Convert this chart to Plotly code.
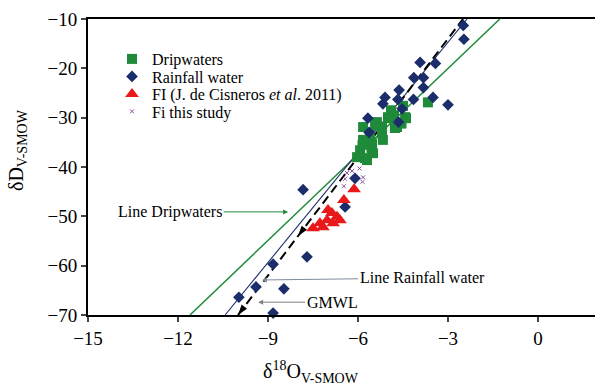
import math
import plotly.graph_objects as go

# ---------------- data ----------------
drip_x = [-3.67, -4.5, -4.4, -4.8, -5.0, -4.7, -5.83, -5.43, -5.2, -5.83, -5.53, -5.17, -5.93,
          -5.5, -5.7, -6.03, -5.37, -5.0, -4.43, -4.77, -5.2, -5.77, -5.85, -5.55, -4.9, -5.6, -4.55]
drip_y = [-26.9, -27.6, -30.1, -29.5, -30.1, -31.9, -31.9, -31.5, -33.2, -34.5, -35.2, -34.5, -36.6,
          -37.2, -38.6, -38.0, -30.9, -29.9, -29.9, -32.1, -31.9, -38.2, -35.5, -36.2, -28.5, -33.5, -31.2]

rain_x = [-2.49, -2.47, -3.93, -3.42, -4.14, -3.82, -3.82, -4.63, -5.1, -4.15, -3.5, -3.0, -4.67,
          -5.17, -4.53, -5.67, -5.63, -4.65, -6.1, -7.83, -7.7, -8.83, -9.4, -8.47, -9.97, -8.83, -6.43]
rain_y = [-11.3, -14.1, -18.8, -19.0, -21.9, -21.9, -23.9, -24.4, -25.9, -26.3, -25.9, -27.4, -26.3,
          -27.2, -28.2, -30.1, -33.0, -30.9, -42.3, -44.6, -58.2, -59.7, -64.3, -64.7, -66.4, -69.6, -48.1]

fi_x = [-6.13, -6.47, -6.87, -6.7, -7.03, -7.27, -7.5, -6.6, -7.17, -6.83, -7.0]
fi_y = [-44.5, -46.7, -49.3, -50.1, -50.8, -51.4, -52.4, -50.8, -52.2, -51.4, -48.7]

fis_x = [-6.37, -5.95, -5.83, -5.85, -6.43, -6.47, -6.2]
fis_y = [-41.2, -40.3, -42.1, -43.0, -42.4, -43.9, -40.8]

# regression lines: slope, intercept (dD = m * d18O + b)
line_names = ["Line Dripwaters", "Line Rainfall water", "GMWL"]
line_slope = [5.81, 7.44, 8.0]
line_intercept = [-2.6, 7.6, 10.0]
gmwl_arrow_y = [-70, -54]   # where arrowheads sit on the GMWL

x_ticks = [-15, -12, -9, -6, -3, 0]
y_ticks = [-70, -60, -50, -40, -30, -20, -10]
x_range = [-15, 1.9]
y_range = [-70, -10]

# ---------------- styles ----------------
GREEN = "#1f8a3a"
NAVY = "#1c2d6b"
RED = "#e8191b"
PURPLE = "#8a4fa0"
FONT = "Liberation Serif"

L, R, T, B = 88, 0, 19, 76
W, H = 595, 391
PW, PH = W - L - R, H - T - B

fig = go.Figure()

line_styles = [dict(color=GREEN, width=1.5),
               dict(color=NAVY, width=1.1),
               dict(color="black", width=2, dash="9px,5px")]
for name, m, b, st in zip(line_names, line_slope, line_intercept, line_styles):
    xs = [(y_range[0] - b) / m, (y_range[1] - b) / m]
    ys = [y_range[0], y_range[1]]
    fig.add_trace(go.Scatter(x=xs, y=ys, mode="lines", line=st, showlegend=False,
                             hoverinfo="skip"))

# arrowheads on GMWL (pointing down-left along the line)
m, b = line_slope[2], line_intercept[2]
px_per_x = PW / (x_range[1] - x_range[0])
px_per_y = PH / (y_range[1] - y_range[0])
ang = 180 + math.degrees(math.atan2(px_per_x, m * px_per_y))
fig.add_trace(go.Scatter(x=[(y - b) / m for y in gmwl_arrow_y], y=gmwl_arrow_y, mode="markers",
                         marker=dict(symbol="arrow", size=11, angle=ang, color="black"),
                         showlegend=False, hoverinfo="skip", cliponaxis=False))

legend_rows = [60, 77.5, 95, 112.5]
fig.add_trace(go.Scatter(x=drip_x, y=drip_y, mode="markers", name="Dripwaters", legend="legend",
                         marker=dict(symbol="square", size=10, color=GREEN), cliponaxis=False))
fig.add_trace(go.Scatter(x=rain_x, y=rain_y, mode="markers", name="Rainfall water", legend="legend2",
                         marker=dict(symbol="diamond", size=9, color=NAVY), cliponaxis=False))
fig.add_trace(go.Scatter(x=fi_x, y=fi_y, mode="markers", legend="legend3",
                         name="FI (J. de Cisneros <i>et al</i>. 2011)",
                         marker=dict(symbol="triangle-up", size=12, color=RED), cliponaxis=False))
fig.add_trace(go.Scatter(x=fis_x, y=fis_y, mode="markers", name="Fi this study", legend="legend4",
                         marker=dict(symbol="x-thin", size=4, color=PURPLE,
                                     line=dict(color=PURPLE, width=1)), cliponaxis=False))

# labelled arrows
fig.add_annotation(x=-8.33, y=-49.1, ax=-118, ay=0, text="Line Dripwaters",
                   showarrow=True, arrowhead=2, arrowsize=1, arrowwidth=1,
                   arrowcolor=GREEN, font=dict(family=FONT, size=16, color="black"))
fig.add_annotation(x=-9.2, y=-62.9, ax=160, ay=-2, text="Line Rainfall water",
                   showarrow=True, arrowhead=2, arrowsize=1, arrowwidth=1,
                   arrowcolor="#7f8aa0", font=dict(family=FONT, size=16, color="black"))
fig.add_annotation(x=-9.33, y=-67.4, ax=74, ay=0, text="GMWL",
                   showarrow=True, arrowhead=2, arrowsize=1, arrowwidth=1,
                   arrowcolor="#808080", font=dict(family=FONT, size=16, color="black"))

# axis titles
fig.add_annotation(xref="paper", yref="paper", x=(311 - L) / PW, y=-(372 - (T + PH)) / PH,
                   xanchor="center", yanchor="middle",
                   text="δ<sup>18</sup>O<sub>V-SMOW</sub>", showarrow=False,
                   font=dict(family=FONT, size=20, color="black"))
fig.add_annotation(xref="paper", yref="paper", x=-(L - 17) / PW, y=1 - (150 - T) / PH,
                   xanchor="center", yanchor="middle",
                   text="δD<sub>V-SMOW</sub>", showarrow=False, textangle=-90,
                   font=dict(family=FONT, size=20, color="black"))

fig.update_xaxes(range=x_range, tickvals=x_ticks, ticks="outside", ticklen=5, tickwidth=2,
                 showline=True, linewidth=2, linecolor="black", mirror=True,
                 showgrid=False, zeroline=False,
                 tickfont=dict(family=FONT, size=19, color="black"))
fig.update_yaxes(range=y_range, tickvals=y_ticks, ticks="outside", ticklen=5, tickwidth=2,
                 showline=True, linewidth=2, linecolor="black",
                 showgrid=False, zeroline=False,
                 tickfont=dict(family=FONT, size=19, color="black"))

legs = {}
for i, row in enumerate(legend_rows):
    key = "legend" if i == 0 else f"legend{i + 1}"
    legs[key] = dict(x=(112 - L) / PW, y=1 - (row - 18 - T) / PH, xanchor="left", yanchor="top",
                     font=dict(family=FONT, size=16, color="black"),
                     bgcolor="rgba(0,0,0,0)", itemwidth=30)

fig.update_layout(
    width=W, height=H,
    margin=dict(l=L, r=R, t=T, b=B),
    plot_bgcolor="white", paper_bgcolor="white",
    showlegend=True,
    **legs,
)

fig.write_html("out.html")
